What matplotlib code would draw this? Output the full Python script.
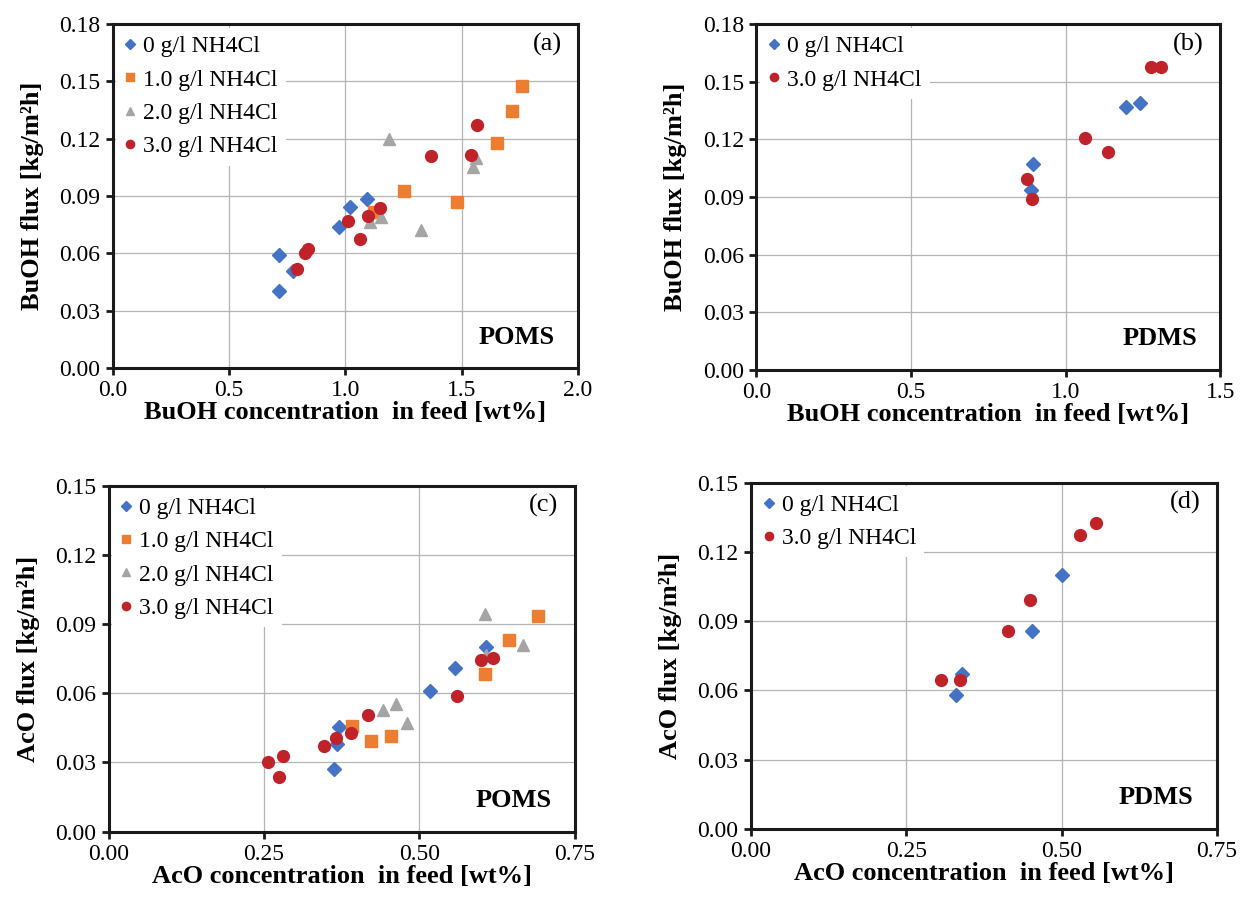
import numpy as np
import matplotlib
matplotlib.use("Agg")
import matplotlib.pyplot as plt
from matplotlib.ticker import FormatStrFormatter

plt.rcParams["font.family"] = ["Liberation Serif", "DejaVu Serif"]

# series labels
labels = ["0 g/l NH4Cl", "1.0 g/l NH4Cl", "2.0 g/l NH4Cl", "3.0 g/l NH4Cl"]

# (a) POMS, BuOH
a_x0 = [0.713, 0.774, 0.714, 0.974, 1.021, 1.093]
a_y0 = [0.059, 0.051, 0.0405, 0.0737, 0.0843, 0.0885]
a_x1 = [1.760, 1.717, 1.651, 1.253, 1.481, 1.121]
a_y1 = [0.1478, 0.1346, 0.1176, 0.0927, 0.0869, 0.0815]
a_x2 = [1.186, 1.560, 1.549, 1.107, 1.153, 1.326]
a_y2 = [0.120, 0.1098, 0.1054, 0.0766, 0.0792, 0.0722]
a_x3 = [1.564, 1.366, 1.541, 1.150, 1.099, 1.011, 1.061, 0.838, 0.827, 0.794]
a_y3 = [0.1269, 0.1108, 0.1112, 0.0839, 0.0797, 0.077, 0.0675, 0.0621, 0.0604, 0.0518]

# (b) PDMS, BuOH
b_x0 = [1.197, 1.242, 0.894, 0.889]
b_y0 = [0.1366, 0.1387, 0.107, 0.0936]
b_x3 = [1.278, 1.310, 1.063, 1.137, 0.876, 0.890]
b_y3 = [0.1577, 0.1577, 0.1206, 0.1135, 0.0995, 0.089]

# (c) POMS, AcO
c_x0 = [0.608, 0.557, 0.517, 0.371, 0.368, 0.363]
c_y0 = [0.080, 0.071, 0.061, 0.0454, 0.0379, 0.0272]
c_x1 = [0.691, 0.644, 0.606, 0.391, 0.422, 0.454]
c_y1 = [0.0936, 0.083, 0.0683, 0.0457, 0.0392, 0.0413]
c_x2 = [0.605, 0.667, 0.441, 0.463, 0.481, 0.608]
c_y2 = [0.0943, 0.0808, 0.0527, 0.0553, 0.0472, 0.0765]
c_x3 = [0.599, 0.619, 0.561, 0.417, 0.390, 0.366, 0.346, 0.281, 0.256, 0.274]
c_y3 = [0.0742, 0.0752, 0.0589, 0.0506, 0.0426, 0.0404, 0.0371, 0.0326, 0.0303, 0.0238]

# (d) PDMS, AcO
d_x0 = [0.500, 0.452, 0.340, 0.330]
d_y0 = [0.110, 0.0857, 0.067, 0.0579]
d_x3 = [0.556, 0.529, 0.4495, 0.414, 0.306, 0.337]
d_y3 = [0.1325, 0.1274, 0.0993, 0.0856, 0.0645, 0.0645]

styles = [("D", "#4472C4", 7.0), ("s", "#ED7D31", 8.0), ("^", "#A5A5A5", 8.5), ("o", "#C0222A", 8.5)]

fig = plt.figure(figsize=(12.43, 9.05), dpi=100)

def panel(rect, series, xmax, xstep, xfmt, ymax, xlabel, ylabel, tag, memb):
    ax = fig.add_axes(rect)
    for (x, y, k) in series:
        m, c, ms = styles[k]
        ax.plot(x, y, ls="none", marker=m, color=c, ms=ms, mec=c, label=labels[k], zorder=3)
    ax.set_xlim(0, xmax)
    ax.set_ylim(0, ymax)
    ax.set_xticks(np.arange(0, xmax + 1e-9, xstep))
    ax.set_yticks(np.arange(0, ymax + 1e-9, 0.03))
    ax.xaxis.set_major_formatter(FormatStrFormatter(xfmt))
    ax.yaxis.set_major_formatter(FormatStrFormatter("%.2f"))
    ax.grid(True, color="#b4b4b4", lw=0.9, zorder=0)
    ax.set_axisbelow(True)
    for s in ax.spines.values():
        s.set_linewidth(2.2)
        s.set_color("#1a1a1a")
    ax.tick_params(direction="out", length=5, width=2, labelsize=17, color="#1a1a1a", pad=4)
    ax.set_xlabel(xlabel, fontsize=19, fontweight="bold", labelpad=0)
    ax.set_ylabel(ylabel, fontsize=19, fontweight="bold", labelpad=11)
    ax.text(0.965, 0.975, tag, transform=ax.transAxes, ha="right", va="top", fontsize=19)
    ax.text(0.95, 0.09, memb, transform=ax.transAxes, ha="right", va="center",
            fontsize=19, fontweight="bold")
    leg = ax.legend(loc="upper left", fontsize=17, frameon=True, fancybox=False,
                    framealpha=1, edgecolor="none", facecolor="white",
                    handlelength=0.5, handletextpad=0.3, markerscale=0.7,
                    labelspacing=0.5, borderpad=0.35, borderaxespad=0.15)
    leg.set_zorder(5)
    return ax

ylab_b = "BuOH flux [kg/m\u00b2h]"
ylab_a = "AcO flux [kg/m\u00b2h]"
xlab_b = "BuOH concentration  in feed [wt%]"
xlab_a = "AcO concentration  in feed [wt%]"

panel([0.0907, 0.5934, 0.3743, 0.3801],
      [(a_x0, a_y0, 0), (a_x1, a_y1, 1), (a_x2, a_y2, 2), (a_x3, a_y3, 3)],
      2.0, 0.5, "%.1f", 0.18, xlab_b, ylab_b, "(a)", "POMS")
panel([0.6085, 0.5912, 0.3731, 0.3823],
      [(b_x0, b_y0, 0), (b_x3, b_y3, 3)],
      1.5, 0.5, "%.1f", 0.18, xlab_b, ylab_b, "(b)", "PDMS")
panel([0.0874, 0.0812, 0.3749, 0.3823],
      [(c_x0, c_y0, 0), (c_x1, c_y1, 1), (c_x2, c_y2, 2), (c_x3, c_y3, 3)],
      0.75, 0.25, "%.2f", 0.15, xlab_a, ylab_a, "(c)", "POMS")
panel([0.6041, 0.0840, 0.3749, 0.3828],
      [(d_x0, d_y0, 0), (d_x3, d_y3, 3)],
      0.75, 0.25, "%.2f", 0.15, xlab_a, ylab_a, "(d)", "PDMS")

fig.savefig("out.png", dpi=100)
